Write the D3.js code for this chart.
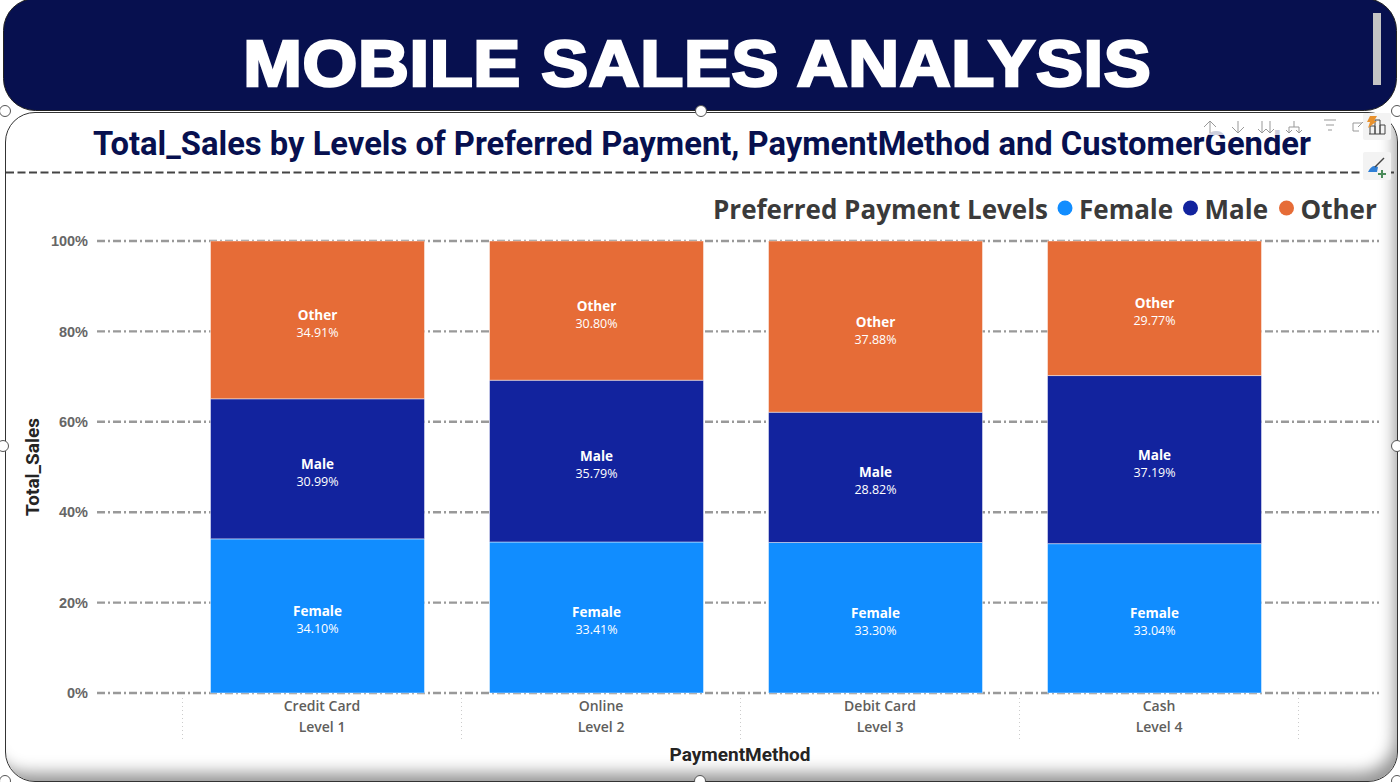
<!DOCTYPE html>
<html lang="en">

<head>
    <meta charset="UTF-8">
    <title>Mobile Sales Analysis</title>
    <script src="https://cdnjs.cloudflare.com/ajax/libs/d3/7.8.5/d3.min.js"></script>
    <style>
        html, body {
            margin: 0;
            padding: 0;
            width: 1400px;
            height: 782px;
            overflow: hidden;
            background: white;
        }

        div#panel {
            position: absolute;
            left: 5px;
            top: 112px;
            width: 1391px;
            height: 668px;
            border: 1px solid #333;
            border-radius: 30px;
            box-shadow: inset -9px -15px 16px -7px rgba(0, 0, 0, 0.42);
            background: white;
            box-sizing: content-box;
        }

        svg#main {
            position: absolute;
            left: 0;
            top: 0;
        }

        .grid line {
            stroke: #999;
            stroke-width: 2.4px;
            stroke-dasharray: 8 3 2 3;
        }

        .separators line {
            stroke: #ccc;
            stroke-width: 1px;
            stroke-dasharray: 1 3;
        }

        .y-axis text {
            font: bold 14.5px 'Liberation Sans', sans-serif;
            fill: #666;
        }

        .x-axis text {
            font: 600 14px 'Open Sans', sans-serif;
            fill: #605e5c;
            text-anchor: middle;
        }

        .axis-title {
            font: bold 19px 'Roboto', sans-serif;
            fill: #252423;
            text-anchor: middle;
        }

        .seg-name {
            font: bold 13.5px 'Open Sans', sans-serif;
            fill: white;
            text-anchor: middle;
        }

        .seg-value {
            font: 12.5px 'Open Sans', sans-serif;
            fill: white;
            text-anchor: middle;
        }

        .legend text {
            font: bold 26px 'Open Sans', sans-serif;
            fill: #3a3a3a;
        }

        .tool {
            fill: none;
            stroke: #999;
            stroke-width: 1px;
        }

        .handle {
            fill: white;
            stroke: #555;
            stroke-width: 1px;
        }
    </style>
</head>

<body>
    <div id="panel"></div>
    <svg id="main" width="1400" height="782"></svg>
    <script>
        "use strict";

        const methods = ["Credit Card", "Online", "Debit Card", "Cash"];
        const levels = ["Level 1", "Level 2", "Level 3", "Level 4"];
        const genders = ["Female", "Male", "Other"];
        const female = [34.10, 33.41, 33.30, 33.04];
        const male = [30.99, 35.79, 28.82, 37.19];
        const other = [34.91, 30.80, 37.88, 29.77];
        const genderColors = ["#118dff", "#12239e", "#e66c37"];
        const yTicks = [0, 20, 40, 60, 80, 100];

        !function () {
            const svg = d3.select("svg#main");

            const plot = { left: 178, right: 1294, top: 241, bottom: 693, gridLeft: 97, gridRight: 1379 };
            // category labels and separators sit a little right of the bars
            const labelShift = 5;

            const x = d3.scaleBand()
                .domain(methods)
                .range([plot.left, plot.right])
                .paddingInner(0.233)
                .paddingOuter(0.1165);

            const y = d3.scaleLinear()
                .domain([0, 100])
                .range([plot.bottom, plot.top]);

            const color = d3.scaleOrdinal().domain(genders).range(genderColors);

            const rows = methods.map((m, i) => ({ method: m, Female: female[i], Male: male[i], Other: other[i] }));
            const stacked = d3.stack().keys(genders)(rows);

            // Header banner

            svg.append("rect")
                .attr("x", 3.5).attr("y", -1.5)
                .attr("width", 1393).attr("height", 112)
                .attr("rx", 32)
                .attr("fill", "#07104f")
                .attr("stroke", "#222");

            // widened by hand, there is no Arial Black on the box
            svg.append("text")
                .attr("transform", "translate(697,85.5) scale(1.1,1)")
                .attr("text-anchor", "middle")
                .attr("textLength", 825)
                .attr("lengthAdjust", "spacing")
                .attr("fill", "white")
                .attr("stroke", "white")
                .attr("stroke-width", 2.6)
                .style("font", "bold 64px 'Liberation Sans', sans-serif")
                .text("MOBILE SALES ANALYSIS");

            svg.append("rect")
                .attr("x", 1373).attr("y", 13)
                .attr("width", 8).attr("height", 72)
                .attr("fill", "#c4c4c4");

            // Visual title

            svg.append("text")
                .attr("x", 702).attr("y", 155)
                .attr("text-anchor", "middle")
                .attr("textLength", 1218)
                .attr("lengthAdjust", "spacingAndGlyphs")
                .attr("fill", "#07104f")
                .style("font", "bold 33px 'Roboto', sans-serif")
                .text("Total_Sales by Levels of Preferred Payment, PaymentMethod and CustomerGender");

            svg.append("line")
                .attr("x1", 6).attr("x2", 1396)
                .attr("y1", 172.5).attr("y2", 172.5)
                .attr("stroke", "#444")
                .attr("stroke-width", 2)
                .attr("stroke-dasharray", "8 3.5");

            // Legend

            const legend = svg.append("g").attr("class", "legend");

            legend.append("text")
                .attr("x", 713).attr("y", 219)
                .text("Preferred Payment Levels");

            const legendItems = legend.selectAll("g")
                .data(genders)
                .join("g")
                .attr("transform", (d, i) => "translate(" + [1065, 1190.5, 1286.5][i] + ",208)");

            legendItems.append("circle")
                .attr("r", 7.5)
                .attr("fill", d => color(d));

            legendItems.append("text")
                .attr("x", 14).attr("y", 11)
                .text(d => d);

            // Gridlines and separators

            svg.append("g").attr("class", "grid")
                .selectAll("line")
                .data(yTicks)
                .join("line")
                .attr("x1", plot.gridLeft).attr("x2", plot.gridRight)
                .attr("y1", d => y(d)).attr("y2", d => y(d));

            const step = x.step();
            svg.append("g").attr("class", "separators")
                .selectAll("line")
                .data(d3.range(methods.length + 1))
                .join("line")
                .attr("x1", d => plot.left + labelShift + d * step - 0.5)
                .attr("x2", d => plot.left + labelShift + d * step - 0.5)
                .attr("y1", 698).attr("y2", 739);

            // Stacked bars

            const layers = svg.append("g")
                .selectAll("g")
                .data(stacked)
                .join("g")
                .attr("fill", d => color(d.key));

            layers.selectAll("rect")
                .data(d => d)
                .join("rect")
                .attr("x", d => x(d.data.method))
                .attr("y", d => y(d[1]))
                .attr("width", x.bandwidth())
                .attr("height", d => y(d[0]) - y(d[1]))
                .attr("stroke", "rgba(255,255,255,0.45)")
                .attr("stroke-width", 1);

            // Segment labels

            const segLabels = svg.append("g")
                .selectAll("g")
                .data(stacked.flatMap(s => s.map(d => ({ key: s.key, d: d }))))
                .join("g")
                .attr("transform", s => "translate(" + (x(s.d.data.method) + x.bandwidth() / 2) + "," + (y(s.d[0]) + y(s.d[1])) / 2 + ")");

            segLabels.append("text")
                .attr("class", "seg-name")
                .attr("y", 0)
                .text(s => s.key);

            segLabels.append("text")
                .attr("class", "seg-value")
                .attr("y", 17)
                .text(s => (s.d[1] - s.d[0]).toFixed(2) + "%");

            // Axes

            const yAxis = svg.append("g")
                .attr("class", "y-axis")
                .attr("transform", "translate(88,0)")
                .call(d3.axisLeft(y).tickValues(yTicks).tickSize(0).tickPadding(0).tickFormat(d => d + "%"));
            yAxis.select(".domain").remove();

            const xLabels = svg.append("g")
                .attr("class", "x-axis")
                .selectAll("g")
                .data(methods)
                .join("g")
                .attr("transform", d => "translate(" + (x(d) + x.bandwidth() / 2 + labelShift - 0.5) + ",0)");

            xLabels.append("text").attr("y", 711).text(d => d);
            xLabels.append("text").attr("y", 732).text((d, i) => levels[i]);

            svg.append("text")
                .attr("class", "axis-title")
                .attr("x", 740).attr("y", 761)
                .text("PaymentMethod");

            svg.append("text")
                .attr("class", "axis-title")
                .attr("transform", "translate(39,467) rotate(-90)")
                .text("Total_Sales");

            // Power BI selection chrome

            const tools = svg.append("g");

            tools.append("rect")
                .attr("x", 1198).attr("y", 113)
                .attr("width", 165).attr("height", 22)
                .attr("fill", "white")
                .attr("fill-opacity", 0.8);

            const arrows = [
                "M1210 133V121M1204 127L1210 121L1216 127",
                "M1238 121V133M1232 127L1238 133L1244 127",
                "M1262 121V133M1258 129L1262 133L1266 129M1270 121V133M1266 129L1270 133L1274 129",
                "M1294 121V127M1289 133V127H1299V133M1286 130L1289 133L1292 130M1296 130L1299 133L1302 130",
                "M1324 120H1336M1326 125H1334M1328 130H1332",
                "M1353 131V123H1362M1353 131H1359M1358 127L1365 120"
            ];
            tools.selectAll("path.tool")
                .data(arrows)
                .join("path")
                .attr("class", "tool")
                .attr("d", d => d);

            tools.append("rect")
                .attr("x", 1363).attr("y", 113).attr("width", 28).attr("height", 27)
                .attr("rx", 2).attr("fill", "#f3f3f3");
            tools.append("path")
                .attr("d", "M1370 134V126H1375V134M1375 134V120H1380V134M1380 134V125H1385V134M1369 134H1385")
                .attr("fill", "none").attr("stroke", "#444");
            tools.append("path")
                .attr("d", "M1370 116L1377 116L1374 121L1377 121L1368 128L1370 122L1367 122Z")
                .attr("fill", "#e8912d");

            tools.append("rect")
                .attr("x", 1363).attr("y", 152).attr("width", 28).attr("height", 28)
                .attr("rx", 2).attr("fill", "#f3f3f3");
            tools.append("path")
                .attr("d", "M1368 172C1371 166 1374 165 1378 167L1377 172Z")
                .attr("fill", "#2f7fd6");
            tools.append("path")
                .attr("d", "M1375 167L1384 158")
                .attr("stroke", "#444").attr("stroke-width", 1.5);
            tools.append("path")
                .attr("d", "M1382 170V178M1378 174H1386")
                .attr("stroke", "#4b8b5a").attr("stroke-width", 2);

            const handles = [[5, 111], [701, 111], [1397, 111], [3, 446], [1397, 446], [700, 781], [5, 781], [1397, 781]];
            svg.append("g")
                .selectAll("circle")
                .data(handles)
                .join("circle")
                .attr("class", "handle")
                .attr("cx", d => d[0]).attr("cy", d => d[1])
                .attr("r", 5.5);
        }();
    </script>
</body>

</html>
